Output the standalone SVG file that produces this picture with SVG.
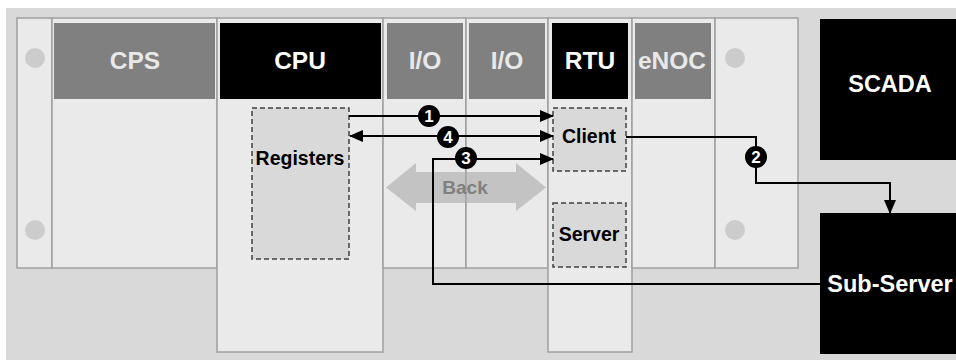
<svg xmlns="http://www.w3.org/2000/svg" width="956" height="360" viewBox="0 0 956 360">
<style>
text{font-family:"Liberation Sans",Arial,sans-serif;font-weight:bold;text-anchor:middle}
.slot{fill:#eaeaea;stroke:#a0a0a0;stroke-width:1.5}
.hg{fill:#808080}
.hb{fill:#000}
.ht{font-size:24.5px;fill:#e8e8e8}
.htw{font-size:24.5px;fill:#ffffff}
.led{fill:#cccccc}
.dash{fill:#d9d9d9;stroke:#404040;stroke-width:1.5;stroke-dasharray:5,3}
.lbl{font-size:19.5px;fill:#000}
.big{fill:#000}
.bigt{font-size:23.5px;fill:#ffffff}
.conn{fill:none;stroke:#000;stroke-width:2}
.num{fill:#000}
.numt{font-size:17px;fill:#fff}
</style>
<defs>
<marker id="ah" markerUnits="userSpaceOnUse" viewBox="0 0 14 12" refX="13" refY="6" markerWidth="14" markerHeight="12" orient="auto-start-reverse">
<path d="M0,0 L14,6 L0,12 Z" fill="#000"/>
</marker>
</defs>
<rect x="0" y="0" width="956" height="360" fill="#ffffff"/>
<rect x="6" y="8" width="950" height="352" fill="#d9d9d9"/>

<g id="slot-left">
<rect class="slot" x="17" y="18" width="35" height="250"/>
<circle class="led" cx="35" cy="58" r="10"/>
<circle class="led" cx="35" cy="230" r="10"/>
</g>
<g id="CPS">
<rect class="slot" x="52" y="18" width="165" height="250"/>
<rect class="hg" x="54" y="23" width="161" height="76"/>
<text class="ht" x="135" y="69">CPS</text>
</g>
<g id="CPU">
<rect class="slot" x="217" y="18" width="166" height="334"/>
<rect class="hb" x="220" y="23" width="161" height="76"/>
<text class="htw" x="300" y="69">CPU</text>
</g>
<g id="IO1">
<rect class="slot" x="383" y="18" width="83" height="250"/>
<rect class="hg" x="387" y="23" width="76" height="76"/>
<text class="ht" x="425" y="69">I/O</text>
</g>
<g id="IO2">
<rect class="slot" x="466" y="18" width="82" height="250"/>
<rect class="hg" x="469" y="23" width="76" height="76"/>
<text class="ht" x="507" y="69">I/O</text>
</g>
<g id="RTU">
<rect class="slot" x="548" y="18" width="84" height="334"/>
<rect class="hb" x="552" y="23" width="76" height="76"/>
<text class="htw" x="590" y="69">RTU</text>
</g>
<g id="eNOC">
<rect class="slot" x="632" y="18" width="83" height="250"/>
<rect class="hg" x="635" y="23" width="76" height="76"/>
<text class="ht" x="672" y="69">eNOC</text>
</g>
<g id="slot-right">
<rect class="slot" x="715" y="18" width="83" height="250"/>
<circle class="led" cx="735" cy="58" r="10"/>
<circle class="led" cx="735" cy="230" r="10"/>
</g>

<g id="Registers">
<rect class="dash" x="252" y="108" width="97" height="151"/>
<text class="lbl" x="300" y="165">Registers</text>
</g>
<g id="Client">
<rect class="dash" x="553" y="108" width="73" height="63"/>
<text class="lbl" x="589" y="143">Client</text>
</g>
<g id="Server">
<rect class="dash" x="553" y="203" width="73" height="64"/>
<text class="lbl" x="589" y="241">Server</text>
</g>

<g id="Back">
<polygon points="386,187.5 416,163 416,172 516,172 516,163 546,187.5 516,211 516,203 416,203 416,211" fill="#a8a8a8" opacity="0.6"/>
<text x="465" y="194" style="font-size:19px;fill:#808080">Back</text>
</g>

<g id="SCADA">
<rect class="big" x="820" y="19" width="136" height="141"/>
<text class="bigt" x="890" y="92">SCADA</text>
</g>
<g id="Sub-Server">
<rect class="big" x="820" y="213" width="136" height="141"/>
<text class="bigt" x="890" y="292">Sub-Server</text>
</g>

<g id="connectors">
<path class="conn" d="M349,116 H553" marker-end="url(#ah)"/>
<path class="conn" d="M350,136 H553" marker-start="url(#ah)" marker-end="url(#ah)"/>
<path class="conn" d="M820,284 H433 V159 H553" marker-end="url(#ah)"/>
<path class="conn" d="M626,137 H756 V183 H890 V213" marker-end="url(#ah)"/>
<circle class="num" cx="429" cy="116" r="11"/>
<text class="numt" x="429" y="122">1</text>
<circle class="num" cx="756" cy="157" r="11"/>
<text class="numt" x="756" y="163">2</text>
<circle class="num" cx="466" cy="158" r="11"/>
<text class="numt" x="466" y="164">3</text>
<circle class="num" cx="448" cy="137" r="11"/>
<text class="numt" x="448" y="143">4</text>
</g>
</svg>
